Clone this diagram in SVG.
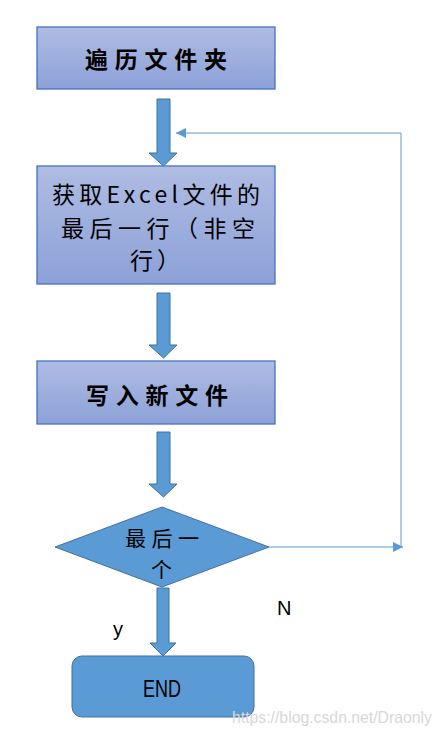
<svg xmlns="http://www.w3.org/2000/svg" width="442" height="737" viewBox="0 0 442 737">
<style>
.box{stroke:#4472C4;stroke-width:1.3;fill:url(#g)}
.blk{fill:#5B9BD5;stroke:#41719C;stroke-width:1}
.cjk{font-family:"Noto Sans CJK SC","Noto Sans CJK JP",sans-serif;fill:#000}
.lat{font-family:"Liberation Sans",Arial,sans-serif;fill:#000}
.ln{fill:none;stroke:#5B9BD5;stroke-width:1}
</style>
<defs>
<linearGradient id="g" x1="0" y1="0" x2="0" y2="1">
<stop offset="0" stop-color="#AFBCE3"/>
<stop offset="1" stop-color="#8CA1D8"/>
</linearGradient>
<marker id="ah" viewBox="0 0 10 10" refX="10" refY="5" markerWidth="10" markerHeight="10" markerUnits="userSpaceOnUse" orient="auto">
<path d="M0,0 L10,5 L0,10 z" fill="#5B9BD5"/>
</marker>
</defs>
<g id="connectors">
<path class="blk" d="M157,99 H170 V153 H177 L163.5,166 L149,153 H157 Z"/>
<path class="blk" d="M157,293 H170 V345 H177 L163.5,358 L149,345 H157 Z"/>
<path class="blk" d="M157,432 H170 V484 H177 L163.5,497 L149,484 H157 Z"/>
<path class="blk" d="M157,588 H169 V643 H176 L163,656 L150,643 H157 Z"/>
<path class="ln" d="M269,547 H403" marker-end="url(#ah)"/>
<path class="ln" d="M401,547 V133 H176" marker-end="url(#ah)"/>
<text class="lat" x="277" y="615" font-size="20">N</text>
<text class="lat" x="113" y="636" font-size="20">y</text>
</g>
<g id="n1">
<rect class="box" x="37" y="27" width="238" height="62"/>
<text class="cjk" x="85" y="68" font-size="23" font-weight="bold" textLength="142" lengthAdjust="spacing">遍历文件夹</text>
</g>
<g id="n2">
<rect class="box" x="37" y="166" width="238" height="118"/>
<text class="cjk" x="52" y="203" font-size="23" textLength="208" lengthAdjust="spacing">获取Excel文件的</text>
<text class="cjk" x="61" y="237" font-size="23" textLength="194" lengthAdjust="spacing">最后一行（非空</text>
<text class="cjk" x="130" y="269" font-size="23" textLength="50" lengthAdjust="spacing">行）</text>
</g>
<g id="n3">
<rect class="box" x="37" y="361" width="238" height="63"/>
<text class="cjk" x="86" y="404" font-size="23" font-weight="bold" textLength="142" lengthAdjust="spacing">写入新文件</text>
</g>
<g id="n4">
<path class="blk" d="M55,547 L162,507 L269,547 L162,587 Z"/>
<text class="cjk" x="125" y="546" font-size="21" textLength="74" lengthAdjust="spacing">最后一</text>
<text class="cjk" x="151" y="577" font-size="21">个</text>
</g>
<g id="n5">
<rect class="blk" x="72" y="656" width="182" height="61" rx="10"/>
<text class="lat" x="143" y="697" font-size="24" textLength="38" lengthAdjust="spacingAndGlyphs">END</text>
</g>
<text x="232" y="723" font-family="Liberation Sans,Arial,sans-serif" font-size="16.5" fill="#d8d8d8" textLength="200" lengthAdjust="spacingAndGlyphs">https://blog.csdn.net/Draonly</text>
</svg>
